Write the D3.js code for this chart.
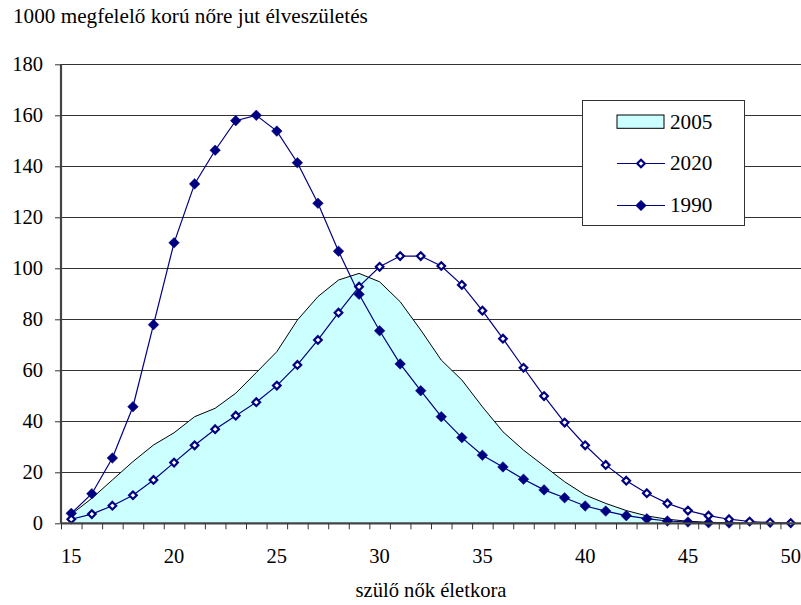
<!DOCTYPE html>
<html>
<head>
<meta charset="utf-8">
<script src="https://cdn.jsdelivr.net/npm/d3@7"></script>
<style>
  html, body { margin: 0; padding: 0; background: #fff; }
  svg { display: block; }
  text { font-family: "Liberation Serif", "Times New Roman", serif; fill: #000; }
</style>
</head>
<body>
<svg id="chart" width="801" height="605"></svg>
<script>
// ---- data ----
const ages = d3.range(15, 51); // 15..50
const series2005 = [3.5, 9.8, 17, 24.2, 30.7, 35.5, 41.8, 45.1, 51, 59.1, 67.3, 79.7, 88.9, 95.4, 98, 94.7, 86.9, 75.8, 64, 56.2, 45.7, 35.9, 28.7, 22.5, 16.3, 11.1, 7.8, 5, 2.9, 1.6, 0.8, 0.4, 0.2, 0.1, 0.05, 0.02];
const series2020 = [1.6, 3.6, 6.9, 11, 17, 23.8, 30.6, 36.9, 42.2, 47.5, 54, 62.1, 71.9, 82.6, 92.8, 100.6, 104.8, 104.8, 100.9, 93.5, 83.4, 72.4, 61, 49.9, 39.5, 30.6, 22.9, 16.7, 11.8, 7.8, 5, 3, 1.6, 0.7, 0.3, 0.1];
const series1990 = [3.9, 11.6, 25.6, 45.7, 77.9, 110, 133.1, 146.3, 157.9, 160, 153.8, 141.4, 125.5, 106.7, 89.8, 75.5, 62.5, 52, 41.8, 33.6, 26.7, 22.1, 17.3, 13.1, 10, 6.8, 4.8, 3, 1.8, 0.9, 0.5, 0.2, 0.1];
const yTicks = [0, 20, 40, 60, 80, 100, 120, 140, 160, 180];
const xTickLabels = [15, 20, 25, 30, 35, 40, 45, 50];
const legendLabels = ["2005", "2020", "1990"];
const titleText = "1000 megfelelő korú nőre jut élveszületés";
const xAxisTitle = "szülő nők életkora";

(function () {
// ---- layout ----
const pLeft = 61, pRight = 801, pTop = 64.3, pBottom = 523.3;
const navy = "#000080", cyan = "#CCFFFF";
const FONT = '"Liberation Serif", "Times New Roman", serif';
const tickSize = "20.5px";

const svg = d3.select("#chart");
const x = d3.scaleBand().domain(ages).range([pLeft, pRight]).paddingInner(0).paddingOuter(0);
const xc = d => x(d) + x.bandwidth() / 2;
const xb = d3.scaleLinear().domain([14.5, 50.5]).range([pLeft, pRight]);
const y = d3.scaleLinear().domain([0, 180]).range([pBottom, pTop]);

// gridlines
svg.append("g").selectAll("line").data(yTicks.filter(v => v > 0)).join("line")
  .attr("x1", pLeft).attr("x2", pRight)
  .attr("y1", d => Math.round(y(d)) + 0.5).attr("y2", d => Math.round(y(d)) + 0.5)
  .attr("stroke", "#333").attr("stroke-width", 1);

// 2005 area
const d2005 = ages.map((a, i) => ({a, v: series2005[i]}));
svg.append("path").datum(d2005)
  .attr("d", d3.area().x(d => xc(d.a)).y0(y(0)).y1(d => y(d.v)))
  .attr("fill", cyan).attr("stroke", "none");
svg.append("path").datum(d2005)
  .attr("d", d3.line().x(d => xc(d.a)).y(d => y(d.v)))
  .attr("fill", "none").attr("stroke", "#000").attr("stroke-width", 1);

const diamond = r => `M0,${-r}L${r},0L0,${r}L${-r},0Z`;

// 1990 line + markers
const d1990 = series1990.map((v, i) => ({a: ages[i], v}));
svg.append("path").datum(d1990)
  .attr("d", d3.line().x(d => xc(d.a)).y(d => y(d.v)))
  .attr("fill", "none").attr("stroke", navy).attr("stroke-width", 1.2);
svg.append("g").selectAll("path").data(d1990).join("path")
  .attr("transform", d => `translate(${xc(d.a)},${y(d.v)})`)
  .attr("d", diamond(5.3)).attr("fill", navy).attr("stroke", navy).attr("stroke-width", 0.5);

// 2020 line + markers
const d2020 = series2020.map((v, i) => ({a: ages[i], v}));
svg.append("path").datum(d2020)
  .attr("d", d3.line().x(d => xc(d.a)).y(d => y(d.v)))
  .attr("fill", "none").attr("stroke", navy).attr("stroke-width", 1.2);
svg.append("g").selectAll("path").data(d2020).join("path")
  .attr("transform", d => `translate(${xc(d.a)},${y(d.v)})`)
  .attr("d", diamond(3.8)).attr("fill", "#fff").attr("stroke", navy).attr("stroke-width", 2.2);

// y axis
const yAxis = svg.append("g").attr("transform", `translate(${pLeft},0)`)
  .call(d3.axisLeft(y).tickValues(yTicks).tickSize(6).tickPadding(12).tickFormat(d3.format("d")));
yAxis.attr("font-family", null).attr("font-size", null);
yAxis.select(".domain").attr("stroke", "#444").attr("stroke-width", 2.2).attr("d", `M0,${pTop}V${pBottom}`);
yAxis.selectAll(".tick line").attr("stroke", "#333");
yAxis.selectAll("text").style("font-size", tickSize).style("font-family", FONT).attr("fill", "#000");

// x axis: tick marks at category boundaries
const xAxis = svg.append("g").attr("transform", `translate(0,${pBottom})`)
  .call(d3.axisBottom(xb).tickValues(d3.range(14.5, 50.51, 1)).tickSize(6).tickFormat(""));
xAxis.select(".domain").attr("stroke", "#444").attr("stroke-width", 2.2).attr("d", `M${pLeft},0H${pRight}`);
xAxis.selectAll(".tick line").attr("stroke", "#333");
svg.append("g").selectAll("text").data(xTickLabels).join("text")
  .attr("x", d => xc(d)).attr("y", 563)
  .attr("text-anchor", "middle").style("font-family", FONT).style("font-size", tickSize).text(d => d);

// title & axis title
svg.append("text").attr("x", 13).attr("y", 23).style("font-family", FONT).style("font-size", "21.2px").text(titleText);
svg.append("text").attr("x", (pLeft + pRight) / 2).attr("y", 596.7).attr("text-anchor", "middle")
  .style("font-family", FONT).style("font-size", "20.6px").text(xAxisTitle);

// legend
const lg = svg.append("g");
lg.append("rect").attr("x", 582.5).attr("y", 100.5).attr("width", 162).attr("height", 125)
  .attr("fill", "#fff").attr("stroke", "#333").attr("stroke-width", 1);
const rowY = [121.7, 163.5, 205.5];
lg.append("rect").attr("x", 617).attr("y", 115).attr("width", 47).attr("height", 13.3)
  .attr("fill", cyan).attr("stroke", "#000").attr("stroke-width", 1);
[1, 2].forEach(i => {
  lg.append("line").attr("x1", 617).attr("x2", 665).attr("y1", rowY[i]).attr("y2", rowY[i])
    .attr("stroke", navy).attr("stroke-width", 1.2);
});
lg.append("path").attr("transform", `translate(641,${rowY[1]})`).attr("d", diamond(3.8))
  .attr("fill", "#fff").attr("stroke", navy).attr("stroke-width", 2.2);
lg.append("path").attr("transform", `translate(641,${rowY[2]})`).attr("d", diamond(5.3))
  .attr("fill", navy).attr("stroke", navy).attr("stroke-width", 0.5);
lg.selectAll("text.lab").data(legendLabels).join("text").attr("class", "lab")
  .attr("x", 670).attr("y", (d, i) => rowY[i] + 6.8)
  .style("font-family", FONT).style("font-size", "21.2px").text(d => d);
})();
</script>
</body>
</html>
